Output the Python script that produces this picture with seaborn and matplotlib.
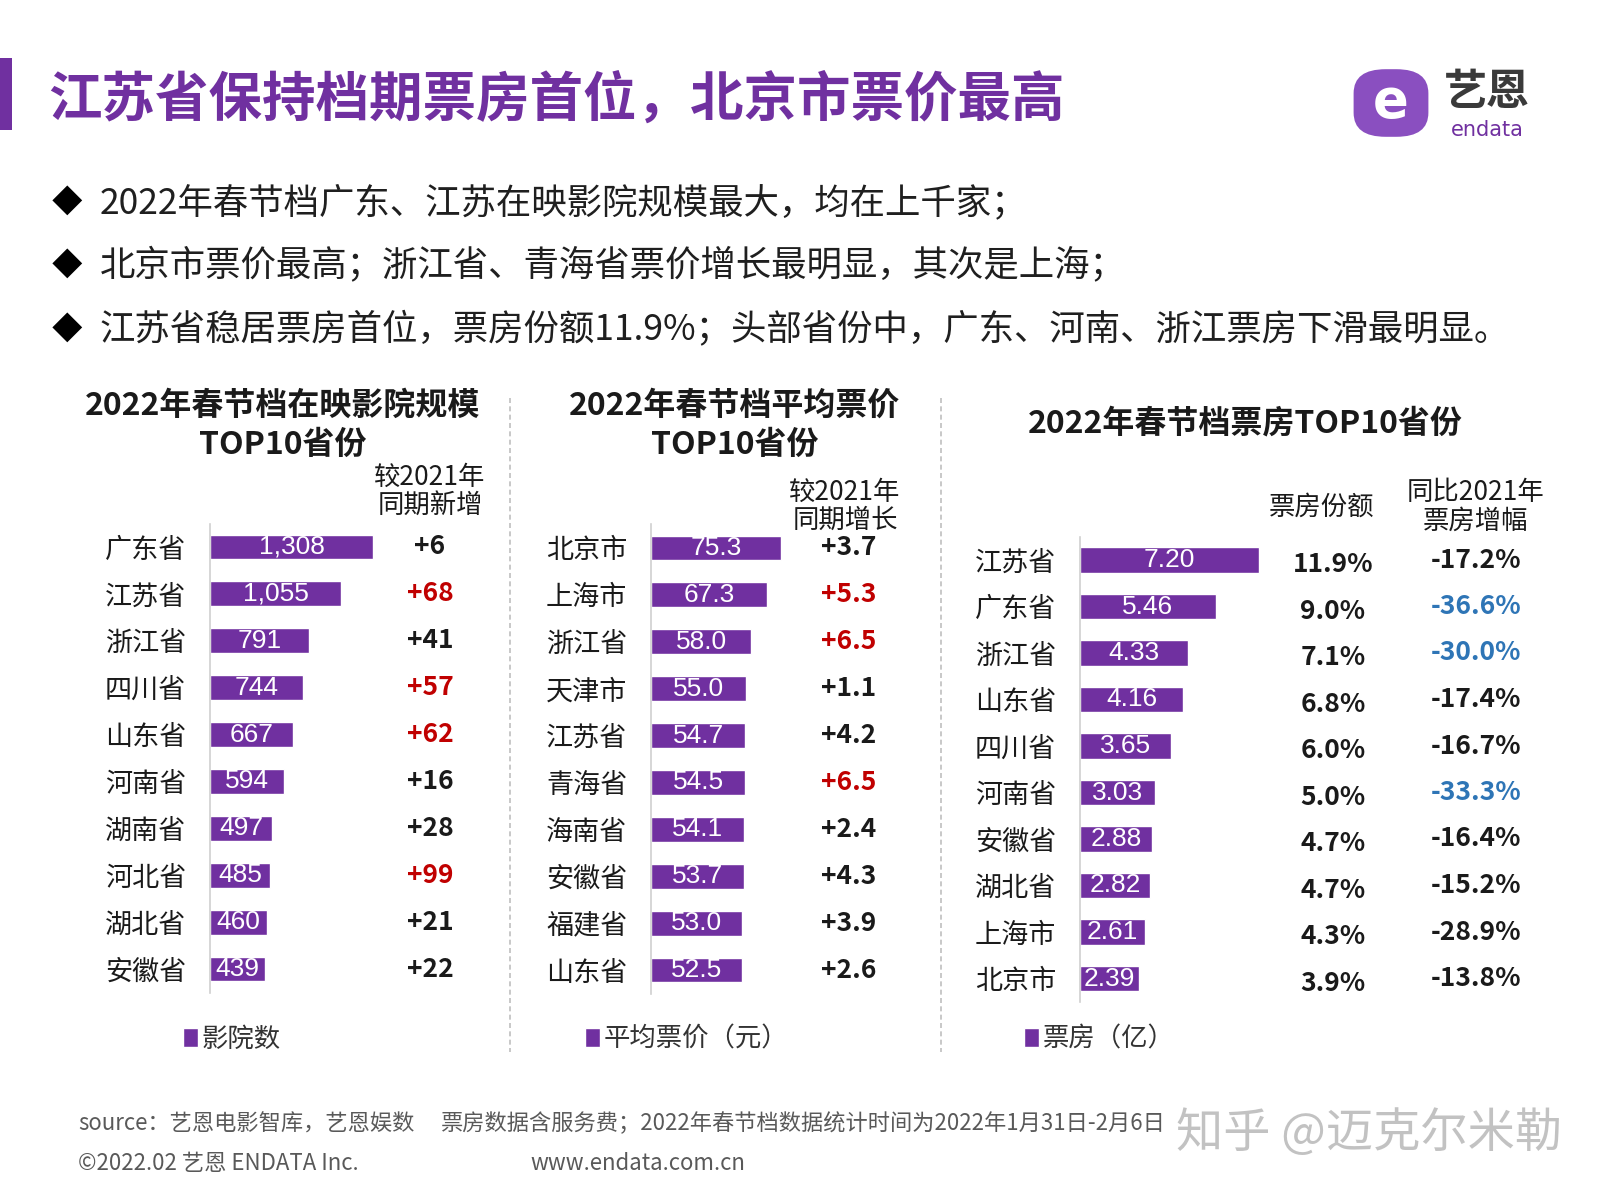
import matplotlib
matplotlib.use('Agg')
import matplotlib.pyplot as plt
import matplotlib.transforms as mtransforms
from matplotlib.lines import Line2D
from matplotlib.patches import Rectangle, FancyBboxPatch
import seaborn as sns

# 在映影院规模 TOP10
cinema_provinces = ['广东省', '江苏省', '浙江省', '四川省', '山东省', '河南省', '湖南省', '河北省', '湖北省', '安徽省']
cinema_counts = [1308, 1055, 791, 744, 667, 594, 497, 485, 460, 439]
cinema_change = [6, 68, 41, 57, 62, 16, 28, 99, 21, 22]
cinema_red = ['江苏省', '四川省', '山东省', '河北省']

# 平均票价 TOP10
price_cities = ['北京市', '上海市', '浙江省', '天津市', '江苏省', '青海省', '海南省', '安徽省', '福建省', '山东省']
prices = [75.3, 67.3, 58.0, 55.0, 54.7, 54.5, 54.1, 53.7, 53.0, 52.5]
price_change = [3.7, 5.3, 6.5, 1.1, 4.2, 6.5, 2.4, 4.3, 3.9, 2.6]
price_red = ['上海市', '浙江省', '青海省']

# 票房 TOP10
box_provinces = ['江苏省', '广东省', '浙江省', '山东省', '四川省', '河南省', '安徽省', '湖北省', '上海市', '北京市']
box_office = [7.20, 5.46, 4.33, 4.16, 3.65, 3.03, 2.88, 2.82, 2.61, 2.39]
box_share = [11.9, 9.0, 7.1, 6.8, 6.0, 5.0, 4.7, 4.7, 4.3, 3.9]
box_change = [-17.2, -36.6, -30.0, -17.4, -16.7, -33.3, -16.4, -15.2, -28.9, -13.8]
box_blue = ['广东省', '浙江省', '河南省']

bullets = [
    '2022年春节档广东、江苏在映影院规模最大，均在上千家；',
    '北京市票价最高；浙江省、青海省票价增长最明显，其次是上海；',
    '江苏省稳居票房首位，票房份额11.9%；头部省份中，广东、河南、浙江票房下滑最明显。',
]

PURPLE = '#7030A0'
RED = '#C00000'
BLUE = '#2E75B6'
DARK = '#1A1A1A'

sns.set_theme(style='white')
plt.rcParams['font.family'] = ['Noto Sans CJK SC', 'DejaVu Sans']

W, H = 1600, 1200
fig = plt.figure(figsize=(16, 12), dpi=100)
fig.patch.set_facecolor('white')


def fx(x):
    return x / W


def fy(y):
    return 1 - y / H


def axes_px(left, top, width, height):
    return fig.add_axes([left / W, 1 - (top + height) / H, width / W, height / H])


# ---- 标题 ----
fig.add_artist(Rectangle((0, fy(130)), fx(12), (130 - 58) / H, transform=fig.transFigure,
                         color=PURPLE, lw=0))
fig.text(fx(48), fy(100), '江苏省保持档期票房首位，北京市票价最高', fontsize=38.5,
         fontweight='bold', color=PURPLE, va='center', ha='left')

# logo（简化）
fig.add_artist(FancyBboxPatch((fx(1360), fy(132)), fx(62), 58 / H,
                              boxstyle='round,pad=0.004,rounding_size=0.02',
                              transform=fig.transFigure, color='#8A4FC0', lw=0))
fig.text(fx(1391), fy(102), 'e', fontsize=38, fontweight='bold', color='white',
         ha='center', va='center', family='DejaVu Sans')
fig.text(fx(1487), fy(92), '艺恩', fontsize=31, fontweight='bold', color='#3A3A3A',
         ha='center', va='center')
fig.text(fx(1487), fy(130), 'endata', fontsize=15, color=PURPLE,
         ha='center', va='center', family='DejaVu Sans')

# ---- 要点 ----
for i, t in enumerate(bullets):
    y = [203, 266, 330][i]
    fig.text(fx(67), fy(y), '◆', fontsize=22, color='black', ha='center', va='center')
    fig.text(fx(100), fy(y), t, fontsize=25.5, color='#1F1F1F', ha='left', va='center')

# ---- 分隔虚线 ----
for x in [510, 941]:
    fig.add_artist(Line2D([fx(x), fx(x)], [fy(398), fy(1052)], transform=fig.transFigure,
                          color='#BFBFBF', lw=1.2, ls=(0, (3, 2))))


def style_axes(ax, cats, xmax):
    ax.set_xlim(0, xmax)
    ax.set_ylim(len(cats) - 0.5, -0.5)
    ax.set_xlabel('')
    ax.set_ylabel('')
    ax.set_xticks([])
    for s in ['top', 'right', 'bottom']:
        ax.spines[s].set_visible(False)
    ax.spines['left'].set_color('#D0D0D0')
    ax.spines['left'].set_linewidth(1.2)
    ax.tick_params(axis='y', length=0, pad=17, labelsize=19.5, labelcolor=DARK)
    ax.patch.set_alpha(0)


def legend(ax, x, y):
    lg = ax.legend(loc='center left', bbox_to_anchor=(fx(x), fy(y)), bbox_transform=fig.transFigure,
                   frameon=False, fontsize=19, handlelength=0.55, handleheight=0.7,
                   handletextpad=0.15, borderpad=0, borderaxespad=0)
    for t in lg.get_texts():
        t.set_color('#333333')


# ---- 面板 1：影院规模 ----
ax1 = axes_px(210, 523.5, 200, 469)
sns.barplot(x=cinema_counts, y=cinema_provinces, orient='h', color=PURPLE, width=0.53,
            saturation=1, ax=ax1, label='影院数')
style_axes(ax1, cinema_provinces, 200 / 0.1246)
ax1.bar_label(ax1.containers[0], labels=[f'{v:,}' for v in cinema_counts], label_type='center',
              color='white', fontsize=19, family='Liberation Sans')
tr1 = mtransforms.blended_transform_factory(fig.transFigure, ax1.transData)
for i, (p, v) in enumerate(zip(cinema_provinces, cinema_change)):
    ax1.text(fx(430), i, f'+{v}', transform=tr1, ha='center', va='center', fontsize=19,
             fontweight='bold', color=RED if p in cinema_red else DARK)
fig.text(fx(283), fy(406), '2022年春节档在映影院规模', fontsize=23, fontweight='bold',
         ha='center', va='center', color=DARK)
fig.text(fx(283), fy(445), 'TOP10省份', fontsize=23, fontweight='bold',
         ha='center', va='center', color=DARK)
fig.text(fx(430), fy(491), '较2021年\n同期新增', fontsize=19, ha='center', va='center',
         color=DARK, linespacing=1.05)
legend(ax1, 183, 1039)

# ---- 面板 2：平均票价 ----
ax2 = axes_px(651, 524.5, 150, 469)
sns.barplot(x=prices, y=price_cities, orient='h', color=PURPLE, width=0.53,
            saturation=1, ax=ax2, label='平均票价（元）')
style_axes(ax2, price_cities, 150 / 1.7264)
ax2.bar_label(ax2.containers[0], labels=[f'{v:.1f}' for v in prices], label_type='center',
              color='white', fontsize=19, family='Liberation Sans')
tr2 = mtransforms.blended_transform_factory(fig.transFigure, ax2.transData)
for i, (p, v) in enumerate(zip(price_cities, price_change)):
    ax2.text(fx(849), i, f'+{v:.1f}', transform=tr2, ha='center', va='center', fontsize=19,
             fontweight='bold', color=RED if p in price_red else DARK)
fig.text(fx(735), fy(406), '2022年春节档平均票价', fontsize=23, fontweight='bold',
         ha='center', va='center', color=DARK)
fig.text(fx(735), fy(445), 'TOP10省份', fontsize=23, fontweight='bold',
         ha='center', va='center', color=DARK)
fig.text(fx(845), fy(506), '较2021年\n同期增长', fontsize=19, ha='center', va='center',
         color=DARK, linespacing=1.05)
legend(ax2, 585, 1039)

# ---- 面板 3：票房 ----
ax3 = axes_px(1080, 536.75, 200, 465)
sns.barplot(x=box_office, y=box_provinces, orient='h', color=PURPLE, width=0.54,
            saturation=1, ax=ax3, label='票房（亿）')
style_axes(ax3, box_provinces, 200 / 24.86)
ax3.bar_label(ax3.containers[0], labels=[f'{v:.2f}' for v in box_office], label_type='center',
              color='white', fontsize=19, family='Liberation Sans')
tr3 = mtransforms.blended_transform_factory(fig.transFigure, ax3.transData)
for i, (p, s, c) in enumerate(zip(box_provinces, box_share, box_change)):
    ax3.text(fx(1333), i + 0.1, f'{s:.1f}%', transform=tr3, ha='center', va='center',
             fontsize=19, fontweight='bold', color=DARK)
    ax3.text(fx(1476), i, f'{c:.1f}%', transform=tr3, ha='center', va='center',
             fontsize=19, fontweight='bold', color=BLUE if p in box_blue else DARK)
fig.text(fx(1245), fy(423), '2022年春节档票房TOP10省份', fontsize=23, fontweight='bold',
         ha='center', va='center', color=DARK)
fig.text(fx(1322), fy(507), '票房份额', fontsize=19, ha='center', va='center', color=DARK)
fig.text(fx(1476), fy(507), '同比2021年\n票房增幅', fontsize=19, ha='center', va='center',
         color=DARK, linespacing=1.05)
legend(ax3, 1024, 1039)

# ---- 脚注 ----
fig.text(fx(78), fy(1124), 'source：艺恩电影智库，艺恩娱数', fontsize=16, color='#595959',
         ha='left', va='center')
fig.text(fx(441), fy(1124), '票房数据含服务费；2022年春节档数据统计时间为2022年1月31日-2月6日',
         fontsize=16, color='#595959', ha='left', va='center')
fig.text(fx(78), fy(1164), '©2022.02 艺恩 ENDATA Inc.', fontsize=16, color='#595959',
         ha='left', va='center')
fig.text(fx(530), fy(1164), 'www.endata.com.cn', fontsize=16, color='#595959',
         ha='left', va='center')
fig.text(fx(1562), fy(1134), '知乎 @迈克尔米勒', fontsize=34, color='#9A9A9A', alpha=0.6,
         ha='right', va='center')

fig.savefig('out.png', dpi=100, facecolor='white')
